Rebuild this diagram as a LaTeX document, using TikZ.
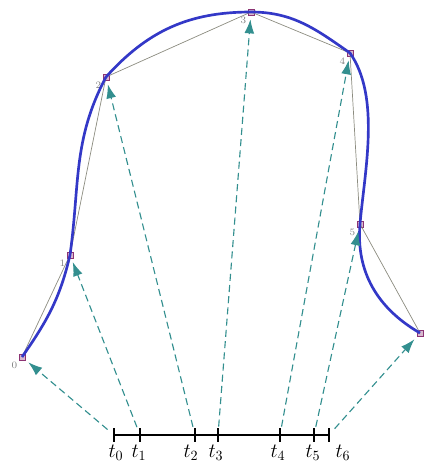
\documentclass[tikz,border=0pt]{standalone}
\usepackage{amsmath,amssymb}
\usepackage{xcolor}
\usepackage{tikz}
\usetikzlibrary{arrows.meta, positioning}
\definecolor{curveblue}{rgb}{0.20,0.22,0.78}
\definecolor{arrowteal}{rgb}{0.20,0.56,0.56}
\definecolor{ptpurple}{rgb}{0.55,0.20,0.45}
\definecolor{polygrey}{rgb}{0.55,0.55,0.50}

\begin{document}
\begin{tikzpicture}[
  x=0.025cm, y=-0.025cm, >=Latex,
  ctrl/.style={draw=ptpurple, fill=ptpurple!35, rectangle,
               minimum size=4pt, inner sep=0pt},
  idx/.style={font=\scriptsize, text=gray, inner sep=1pt},
  parm/.style={font=\Large, inner sep=1pt},
  arr/.style={draw=arrowteal, thick, dash pattern=on 5pt off 3pt,
              -{Latex[length=10pt,width=7pt]}, shorten <=6pt, shorten >=3pt},
  curve/.style={draw=curveblue, line width=1.9pt},
  poly/.style={draw=polygrey, line width=0.5pt},
  axis/.style={draw=black, line width=1.5pt},
  tick/.style={draw=black, line width=1pt}
]
  \useasboundingbox (0,0) rectangle (426,475);
  % control points
  \node[ctrl] (P0) at (22,357) {};
  \node[ctrl] (P1) at (70,255) {};
  \node[ctrl] (P2) at (106,77) {};
  \node[ctrl] (P3) at (251,12) {};
  \node[ctrl] (P4) at (350,53) {};
  \node[ctrl] (P5) at (360,224) {};
  \node[ctrl] (P6) at (420,333) {};
  \foreach \i in {0,...,5}
    \node[idx, below left=0pt of P\i] (L\i) {\i};
  % control polygon and curve
  \draw[poly] (P0.center) -- (P1.center) -- (P2.center) -- (P3.center)
    -- (P4.center) -- (P5.center) -- (P6.center);
  \draw[curve] (P0.center) to[out=55,in=-103] (P1.center)
    to[out=82,in=-118] (P2.center) to[out=48,in=180] (P3.center)
    to[out=0,in=145] (P4.center) to[out=-55,in=85,looseness=0.8] (P5.center)
    to[out=-95,in=150] (P6.center);
  % parameter axis
  \coordinate (T0) at (114,435);
  \coordinate (T1) at (140,435);
  \coordinate (T2) at (195,435);
  \coordinate (T3) at (218,435);
  \coordinate (T4) at (280,435);
  \coordinate (T5) at (314,435);
  \coordinate (T6) at (329,435);
  \draw[axis] (T0) -- (T6);
  \foreach \i/\dx in {0/2,1/-1,2/-4,3/-2,4/-2,5/-1,6/14} {
    \draw[tick] (T\i) ++(0,-7) -- ++(0,14);
    \node[parm, below=0.2cm of T\i, xshift=\dx*0.025cm] (N\i) {$t_{\i}$};
    \draw[arr] (T\i) -- (P\i);
  }
\end{tikzpicture}
\end{document}
